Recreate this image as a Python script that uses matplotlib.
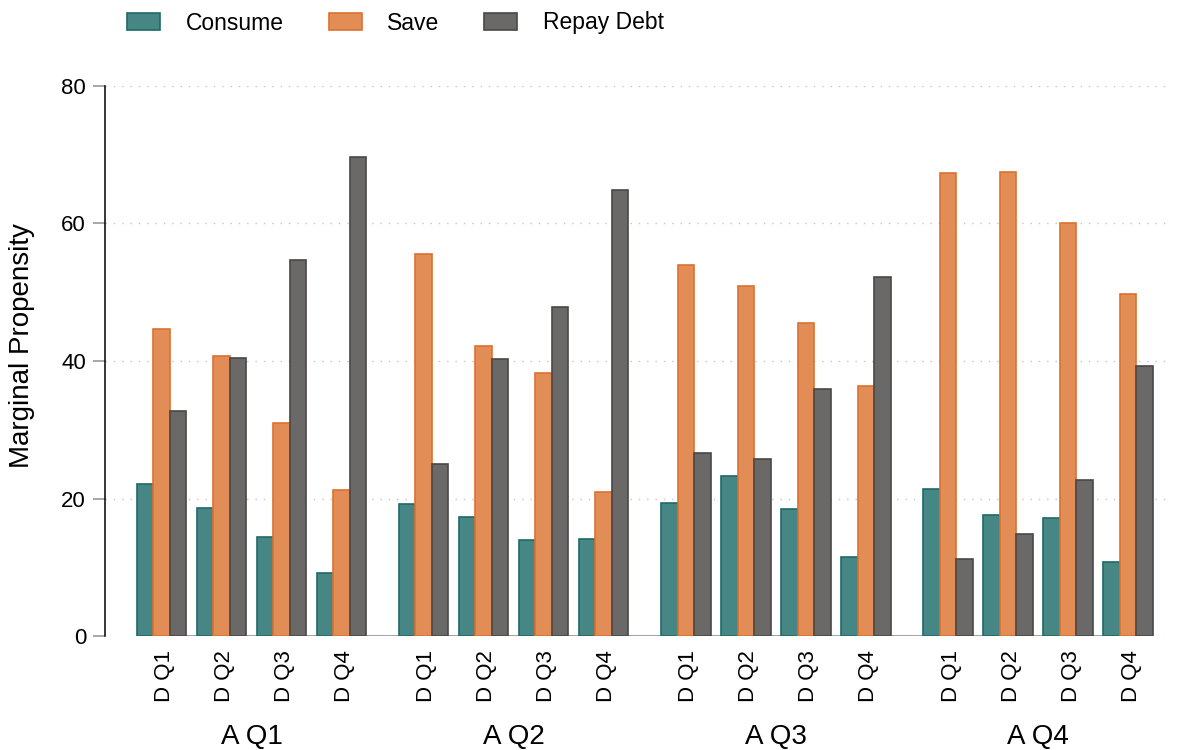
import numpy as np
import matplotlib
matplotlib.use("Agg")
import matplotlib.pyplot as plt
from matplotlib.patches import Patch

plt.rcParams["font.family"] = ["Liberation Sans", "DejaVu Sans"]

# data
a_groups = ["A Q1", "A Q2", "A Q3", "A Q4"]
d_labels = ["D Q1", "D Q2", "D Q3", "D Q4"]
series = ["Consume", "Save", "Repay Debt"]

consume = [22.1, 18.7, 14.4, 9.2, 19.2, 17.4, 13.95, 14.1,
           19.4, 23.3, 18.45, 11.5, 21.4, 17.7, 17.2, 10.85]
save = [44.7, 40.7, 30.95, 21.2, 55.6, 42.2, 38.2, 20.9,
        53.9, 50.85, 45.5, 36.3, 67.3, 67.4, 60.0, 49.8]
repay = [32.8, 40.5, 54.6, 69.6, 25.1, 40.3, 47.8, 64.9,
         26.6, 25.8, 36.0, 52.2, 11.2, 14.8, 22.7, 39.2]

fills = ["#468786", "#e28d55", "#6b6967"]
edges = ["#1f6a6a", "#dc7131", "#4a4846"]

# positions: 4 D bars per A group, wider gap between groups
group_step = 4.37
xpos = np.array([g * group_step + d for g in range(4) for d in range(4)])
bw = 0.275

fig = plt.figure(figsize=(11.77, 7.5), dpi=100)
ax = fig.add_axes([105 / 1177, 0.1515, (1172 - 105) / 1177, 0.7344])

for yv in [0, 20, 40, 60, 80]:
    ax.axhline(yv, color="#c4c4c4", lw=1.0, ls=(0, (1, 5)), zorder=0)
ax.plot([xpos[0], xpos[-1]], [0, 0], color="#a6a6a6", lw=2.2, zorder=1,
        solid_capstyle="butt")

for i, vals in enumerate([consume, save, repay]):
    ax.bar(xpos + (i - 1) * bw, vals, width=bw, color=fills[i],
           edgecolor=edges[i], linewidth=1.2, zorder=2)

ax.set_xlim(-0.942, 16.842)
ax.set_ylim(0, 80)
for s in ["top", "right", "bottom"]:
    ax.spines[s].set_visible(False)
ax.spines["left"].set_linewidth(1.1)
ax.spines["left"].set_color("black")

ax.set_yticks([0, 20, 40, 60, 80])
ax.tick_params(axis="y", length=8.6, width=1.3, color="#a0a0a0",
               labelsize=16, pad=5)
ax.set_xticks(xpos + 0.05)
ax.set_xticklabels(d_labels * 4, rotation=90, fontsize=16)
ax.tick_params(axis="x", length=0, pad=10)

for g, name in enumerate(a_groups):
    cx = xpos[g * 4: g * 4 + 4].mean()
    ax.text(cx, -14.6, name, ha="center", va="center", fontsize=20)

fig.text(22 / 1177, 1 - 346 / 750, "Marginal Propensity", rotation=90,
         ha="center", va="center", fontsize=20)

handles = [Patch(facecolor=fills[i], edgecolor=edges[i], linewidth=1.2)
           for i in range(3)]
fig.legend(handles, series, loc="center left", ncol=3, frameon=False,
           fontsize=16.5, bbox_to_anchor=(127 / 1177, 1 - 23 / 750),
           handlelength=1.44, handleheight=0.75, handletextpad=1.13,
           columnspacing=1.95, borderpad=0, borderaxespad=0)

fig.savefig("out.png", dpi=100)
